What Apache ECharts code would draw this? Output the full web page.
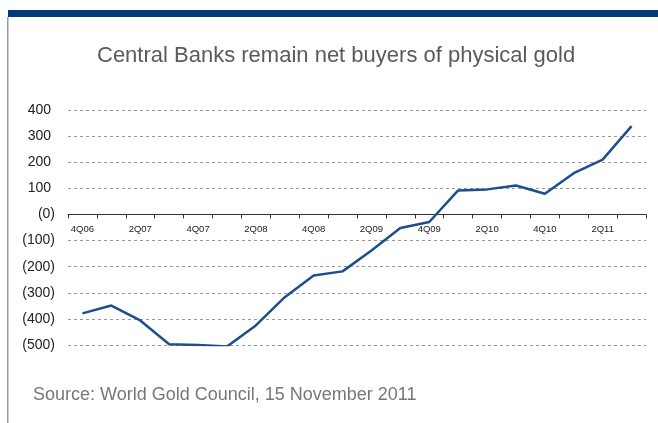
<!DOCTYPE html>
<html>
<head>
<meta charset="utf-8">
<script src="https://cdn.jsdelivr.net/npm/echarts@6/dist/echarts.min.js"></script>
<style>html,body{margin:0;padding:0;background:#fff}#c{width:658px;height:423px}</style>
</head>
<body>
<div id="c"></div>
<script>
var categories = ['4Q06','1Q07','2Q07','3Q07','4Q07','1Q08','2Q08','3Q08','4Q08','1Q09','2Q09','3Q09','4Q09','1Q10','2Q10','3Q10','4Q10','1Q11','2Q11','3Q11'];
var netPurchases = [-379, -349, -406, -497, -500, -506, -425, -317, -234, -218, -138, -52, -29, 92, 96, 111, 79, 158, 210, 338];
var yTicks = {min: -500, max: 400, step: 100};
var titleText = 'Central Banks remain net buyers of physical gold';
var sourceText = 'Source: World Gold Council, 15 November 2011';

var gridTop = 110, gridBottom = 78, H = 423;
var plotH = H - gridTop - gridBottom;
var zeroFromBottom = plotH * (0 - yTicks.min) / (yTicks.max - yTicks.min);

var chart = echarts.init(document.getElementById('c'), null, {renderer: 'canvas'});
chart.setOption({
  animation: false,
  backgroundColor: '#ffffff',
  title: {
    text: titleText,
    left: 92, top: 40,
    textStyle: {fontFamily: 'Liberation Sans', fontSize: 22, fontWeight: 'normal', color: '#5a5a5a'}
  },
  graphic: [
    {type: 'rect', shape: {x: 8, y: 10, width: 650, height: 7}, style: {fill: '#003a7a'}},
    {type: 'rect', shape: {x: 7, y: 17, width: 1.5, height: 406}, style: {fill: '#9a9a9a'}},
    {type: 'text', left: 33, top: 386, style: {text: sourceText, font: '18px "Liberation Sans"', fill: '#777777'}}
  ],
  grid: {left: 68, right: 12, top: gridTop, bottom: gridBottom, containLabel: false},
  xAxis: {
    type: 'category',
    data: categories,
    boundaryGap: true,
    offset: -zeroFromBottom,
    axisLine: {onZero: false, lineStyle: {color: '#333', width: 1}},
    axisTick: {show: true, interval: 0, length: 4, lineStyle: {color: '#333'}},
    axisLabel: {interval: 1, fontFamily: 'Liberation Sans', fontSize: 9.5, color: '#222', margin: 10},
    splitLine: {show: false}
  },
  yAxis: {
    type: 'value',
    min: yTicks.min, max: yTicks.max, interval: yTicks.step,
    axisLine: {show: false},
    axisTick: {show: false},
    axisLabel: {
      fontFamily: 'Liberation Sans', fontSize: 14, color: '#222', margin: 13,
      formatter: function (v) { return v <= 0 ? '(' + Math.abs(v) + ')' : v + ' '; }
    },
    splitLine: {lineStyle: {color: '#999', type: [3, 3], width: 1}}
  },
  series: [{
    type: 'line',
    data: netPurchases,
    symbol: 'none',
    lineStyle: {color: '#1f4f8b', width: 2.5},
    z: 3
  }]
});
</script>
</body>
</html>
